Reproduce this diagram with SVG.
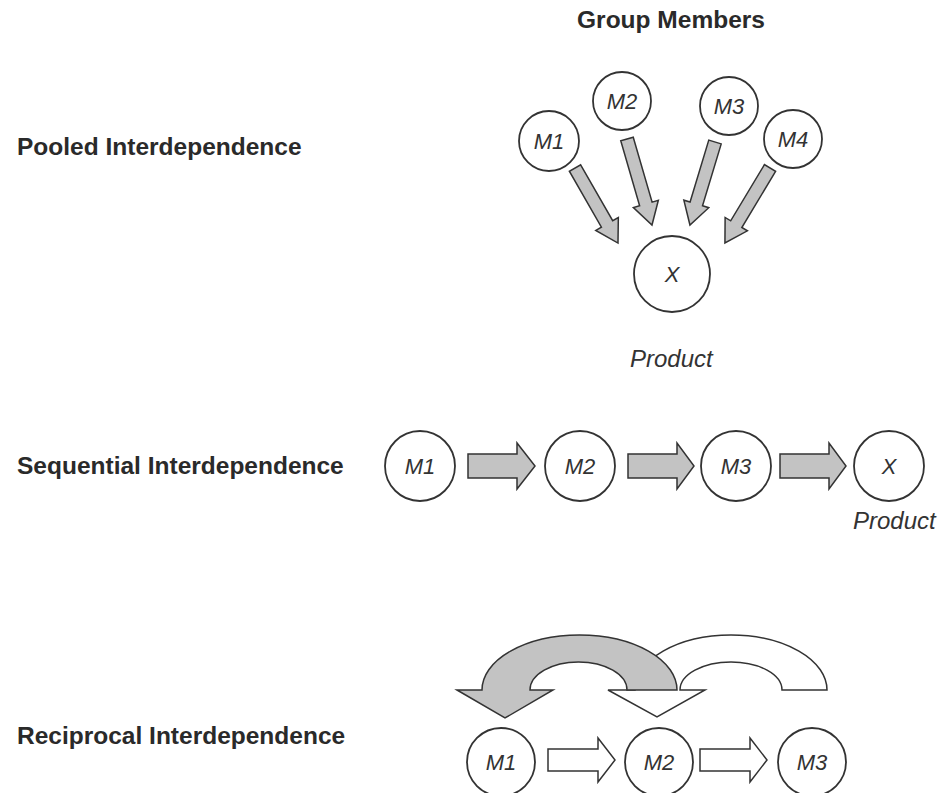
<svg xmlns="http://www.w3.org/2000/svg" width="939" height="793" viewBox="0 0 939 793">
<style>
.lbl{font-family:"Liberation Sans",Arial,sans-serif;font-weight:bold;font-size:24.5px;fill:#2a2a2a}
.it{font-family:"Liberation Sans",Arial,sans-serif;font-style:italic;font-size:22px;fill:#333;text-anchor:middle}
.prod{font-family:"Liberation Sans",Arial,sans-serif;font-style:italic;font-size:24px;fill:#333}
.c{fill:#fff;stroke:#333;stroke-width:1.8}
.ga{fill:#c3c3c3;stroke:#333;stroke-width:1.5;stroke-linejoin:miter}
.wa{fill:#fff;stroke:#333;stroke-width:1.5;stroke-linejoin:miter}
</style>
<rect width="939" height="793" fill="#fff"/>
<text class="lbl" x="671" y="28" text-anchor="middle">Group Members</text>
<text class="lbl" x="17" y="155">Pooled Interdependence</text>
<text class="lbl" x="17" y="474">Sequential Interdependence</text>
<text class="lbl" x="17" y="744">Reciprocal Interdependence</text>

<g id="connectors">
  <g id="pooled-arrows">
    <polygon class="ga" transform="translate(575,168) rotate(60.2)" points="0,-6.5 64.5,-6.5 64.5,-13 86.5,0 64.5,13 64.5,6.5 0,6.5"/>
    <polygon class="ga" transform="translate(627,139) rotate(73.8)" points="0,-6.5 67.6,-6.5 67.6,-13 89.6,0 67.6,13 67.6,6.5 0,6.5"/>
    <polygon class="ga" transform="translate(715,142) rotate(106.8)" points="0,-6.5 64.7,-6.5 64.7,-13 86.7,0 64.7,13 64.7,6.5 0,6.5"/>
    <polygon class="ga" transform="translate(770,168) rotate(121)" points="0,-6.5 65.5,-6.5 65.5,-13 87.5,0 65.5,13 65.5,6.5 0,6.5"/>
  </g>
  <g id="sequential-arrows">
    <polygon class="ga" points="468,454 517,454 517,443 535,466 517,489 517,478 468,478"/>
    <polygon class="ga" points="628,454 677,454 677,443 694,466 677,489 677,478 628,478"/>
    <polygon class="ga" points="780,454 829,454 829,443 846,466 829,489 829,478 780,478"/>
  </g>
  <g id="reciprocal-arrows">
    <path class="wa" d="M608,690 L657,717 L705,690 L680,690 A51,28 0 0 1 782,690 L827,690 A96,55 0 0 0 635,690 Z"/>
    <path class="ga" d="M457,690 L505,718 L553,690 L530,690 A48.5,28 0 0 1 627,690 L677,690 A97.5,55 0 0 0 482,690 Z"/>
    <polygon class="wa" points="548,749 598,749 598,738 615,760 598,782 598,771 548,771"/>
    <polygon class="wa" points="700,749 750,749 750,738 767,760 750,782 750,771 700,771"/>
  </g>
</g>

<g id="pooled-M1"><circle class="c" cx="549" cy="141" r="30"/><text class="it" x="549" y="149">M1</text></g>
<g id="pooled-M2"><circle class="c" cx="622" cy="101" r="29"/><text class="it" x="622" y="109">M2</text></g>
<g id="pooled-M3"><circle class="c" cx="729" cy="106" r="29"/><text class="it" x="729" y="114">M3</text></g>
<g id="pooled-M4"><circle class="c" cx="793" cy="139" r="29"/><text class="it" x="793" y="147">M4</text></g>
<g id="pooled-X"><circle class="c" cx="672" cy="274" r="38"/><text class="it" x="672" y="282">X</text></g>
<text class="prod" x="630" y="367">Product</text>

<g id="seq-M1"><circle class="c" cx="420" cy="466" r="35"/><text class="it" x="420" y="474">M1</text></g>
<g id="seq-M2"><circle class="c" cx="580" cy="466" r="35"/><text class="it" x="580" y="474">M2</text></g>
<g id="seq-M3"><circle class="c" cx="736" cy="466" r="35"/><text class="it" x="736" y="474">M3</text></g>
<g id="seq-X"><circle class="c" cx="889" cy="466" r="35"/><text class="it" x="889" y="474">X</text></g>
<text class="prod" x="853" y="529">Product</text>

<g id="rec-M1"><circle class="c" cx="501" cy="762" r="34"/><text class="it" x="501" y="770">M1</text></g>
<g id="rec-M2"><circle class="c" cx="659" cy="762" r="34"/><text class="it" x="659" y="770">M2</text></g>
<g id="rec-M3"><circle class="c" cx="812" cy="762" r="34"/><text class="it" x="812" y="770">M3</text></g>
</svg>
